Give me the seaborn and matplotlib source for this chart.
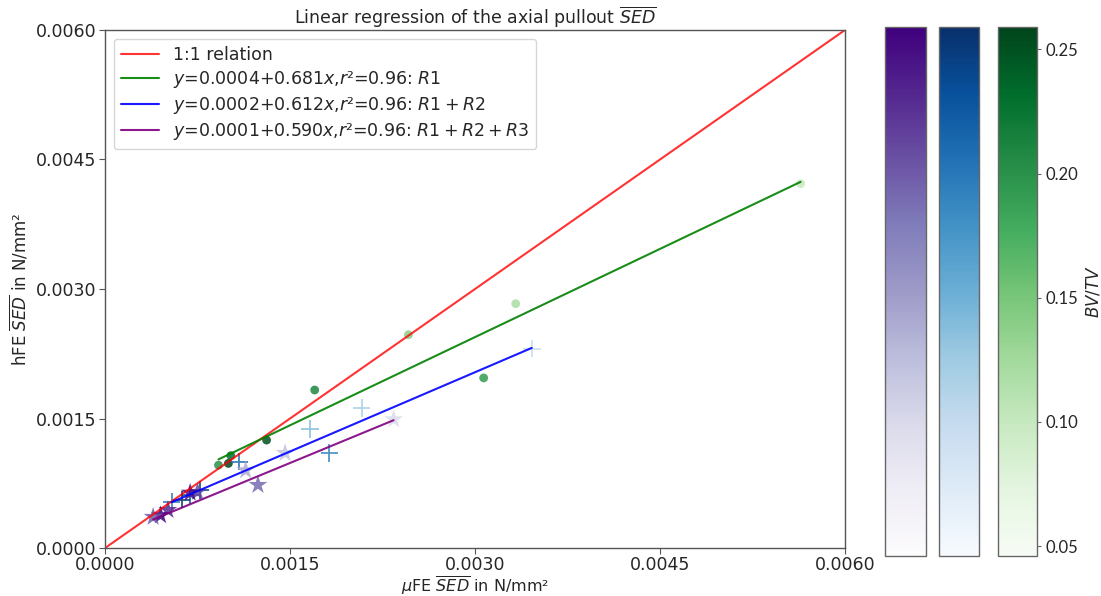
import numpy as np
import pandas as pd
import matplotlib
matplotlib.use("Agg")
import matplotlib.pyplot as plt
import matplotlib.colors as mcolors
import matplotlib.cm as cm
from matplotlib.ticker import FormatStrFormatter
import seaborn as sns

sns.set_style("white")
plt.rcParams["font.family"] = ["DejaVu Sans"]
plt.rcParams["mathtext.fontset"] = "dejavusans"

# Bone volume fraction of each specimen
bvtv = [0.10, 0.12, 0.14, 0.19, 0.21, 0.25, 0.23, 0.258, 0.20]
bvtv_min, bvtv_max = 0.046, 0.259

# SED values (N/mm^2): micro-FE (x) vs homogenised FE (y) per region set
r1_mu = [0.00564, 0.00333, 0.00246, 0.00307, 0.00170, 0.00131, 0.00102, 0.00100, 0.00092]
r1_h = [0.00422, 0.00283, 0.00247, 0.00197, 0.00183, 0.00125, 0.00107, 0.00098, 0.00096]

r12_mu = [0.00346, 0.00208, 0.00166, 0.00182, 0.00109, 0.00077, 0.00069, 0.00062, 0.00054]
r12_h = [0.00231, 0.00162, 0.00138, 0.00110, 0.00100, 0.00067, 0.00061, 0.00056, 0.00053]

r123_mu = [0.00234, 0.00146, 0.00114, 0.00124, 0.00075, 0.00069, 0.00051, 0.00045, 0.00039]
r123_h = [0.00149, 0.00110, 0.00090, 0.00073, 0.00065, 0.00064, 0.00044, 0.00038, 0.00036]

# Regression coefficients (intercept, slope, r^2)
fit_r1 = (0.0004, 0.681, 0.96)
fit_r12 = (0.0002, 0.612, 0.96)
fit_r123 = (0.0001, 0.590, 0.96)

ticks = [0.0, 0.0015, 0.0030, 0.0045, 0.0060]

fig = plt.figure(figsize=(11.01, 5.96), dpi=100)
ax = fig.add_axes([0.0954, 0.0805, 0.6721, 0.8692])

norm = mcolors.Normalize(vmin=bvtv_min, vmax=bvtv_max)

# 1:1 relation
ax.plot([0, 0.006], [0, 0.006], color="red", lw=1.5, alpha=0.8, label="1:1 relation")

series = [
    (r1_mu, r1_h, fit_r1, "green", "Greens", "o", 40, r"$R1$"),
    (r12_mu, r12_h, fit_r12, "blue", "Blues", "+", 160, r"$R1 + R2$"),
    (r123_mu, r123_h, fit_r123, "purple", "Purples", "*", 200, r"$R1 + R2 + R3$"),
]

for mu, h, (b0, b1, r2), lc, cmap, mk, size, name in series:
    df = pd.DataFrame({"mu": mu, "h": h, "bvtv": bvtv})
    xs = np.array([min(mu), max(mu)])
    ax.plot(xs, b0 + b1 * xs, color=lc, lw=1.5, alpha=0.9,
            label=rf"$y$={b0:.4f}+{b1:.3f}$x$,$r$²={r2:.2f}: {name}")
    sns.scatterplot(data=df, x="mu", y="h", hue="bvtv", palette=cmap,
                    hue_norm=norm, marker=mk, s=size, alpha=0.85,
                    linewidth=1.3 if mk == "+" else 0, legend=False, ax=ax)

ax.set_xlim(0, 0.006)
ax.set_ylim(0, 0.006)
ax.set_xticks(ticks)
ax.set_yticks(ticks)
ax.xaxis.set_major_formatter(FormatStrFormatter("%.4f"))
ax.yaxis.set_major_formatter(FormatStrFormatter("%.4f"))
ax.tick_params(axis="both", labelsize=12.5, length=4, pad=2, direction="out",
               bottom=True, left=True, color="#555555")
for sp in ax.spines.values():
    sp.set_color("#555555")
    sp.set_linewidth(1.0)

ax.set_title(r"Linear regression of the axial pullout $\overline{SED}$", fontsize=12.5, pad=4)
ax.set_xlabel(r"$\mu$FE $\overline{SED}$ in N/mm²", fontsize=11.5, labelpad=-0.5)
ax.set_ylabel(r"hFE $\overline{SED}$ in N/mm²", fontsize=12, labelpad=4)
ax.legend(loc="upper left", fontsize=12.5, handlelength=2.2, labelspacing=0.3,
          frameon=True)

# Colour bars for BV/TV, one per region set
cb_axes = [
    ([0.8038, 0.0671, 0.0372, 0.8876], "Purples"),
    ([0.8529, 0.0671, 0.0363, 0.8876], "Blues"),
    ([0.9064, 0.0671, 0.0354, 0.8876], "Greens"),
]
for i, (rect, cmap) in enumerate(cb_axes):
    cax = fig.add_axes(rect)
    sm = cm.ScalarMappable(norm=norm, cmap=cmap)
    cb = fig.colorbar(sm, cax=cax)
    cb.outline.set_edgecolor("#666666")
    cb.outline.set_linewidth(1.0)
    if i < 2:
        cb.set_ticks([])
    else:
        cb.set_ticks([0.05, 0.10, 0.15, 0.20, 0.25])
        cb.ax.yaxis.set_major_formatter(FormatStrFormatter("%.2f"))
        cb.ax.tick_params(labelsize=12, length=3, color="#666666")
        for t in cb.ax.get_yticklabels():
            t.set_family(["Lato", "DejaVu Sans"])
        cb.set_label(r"$BV/TV$", fontsize=12, labelpad=4)

fig.savefig("out.png", dpi=100)
